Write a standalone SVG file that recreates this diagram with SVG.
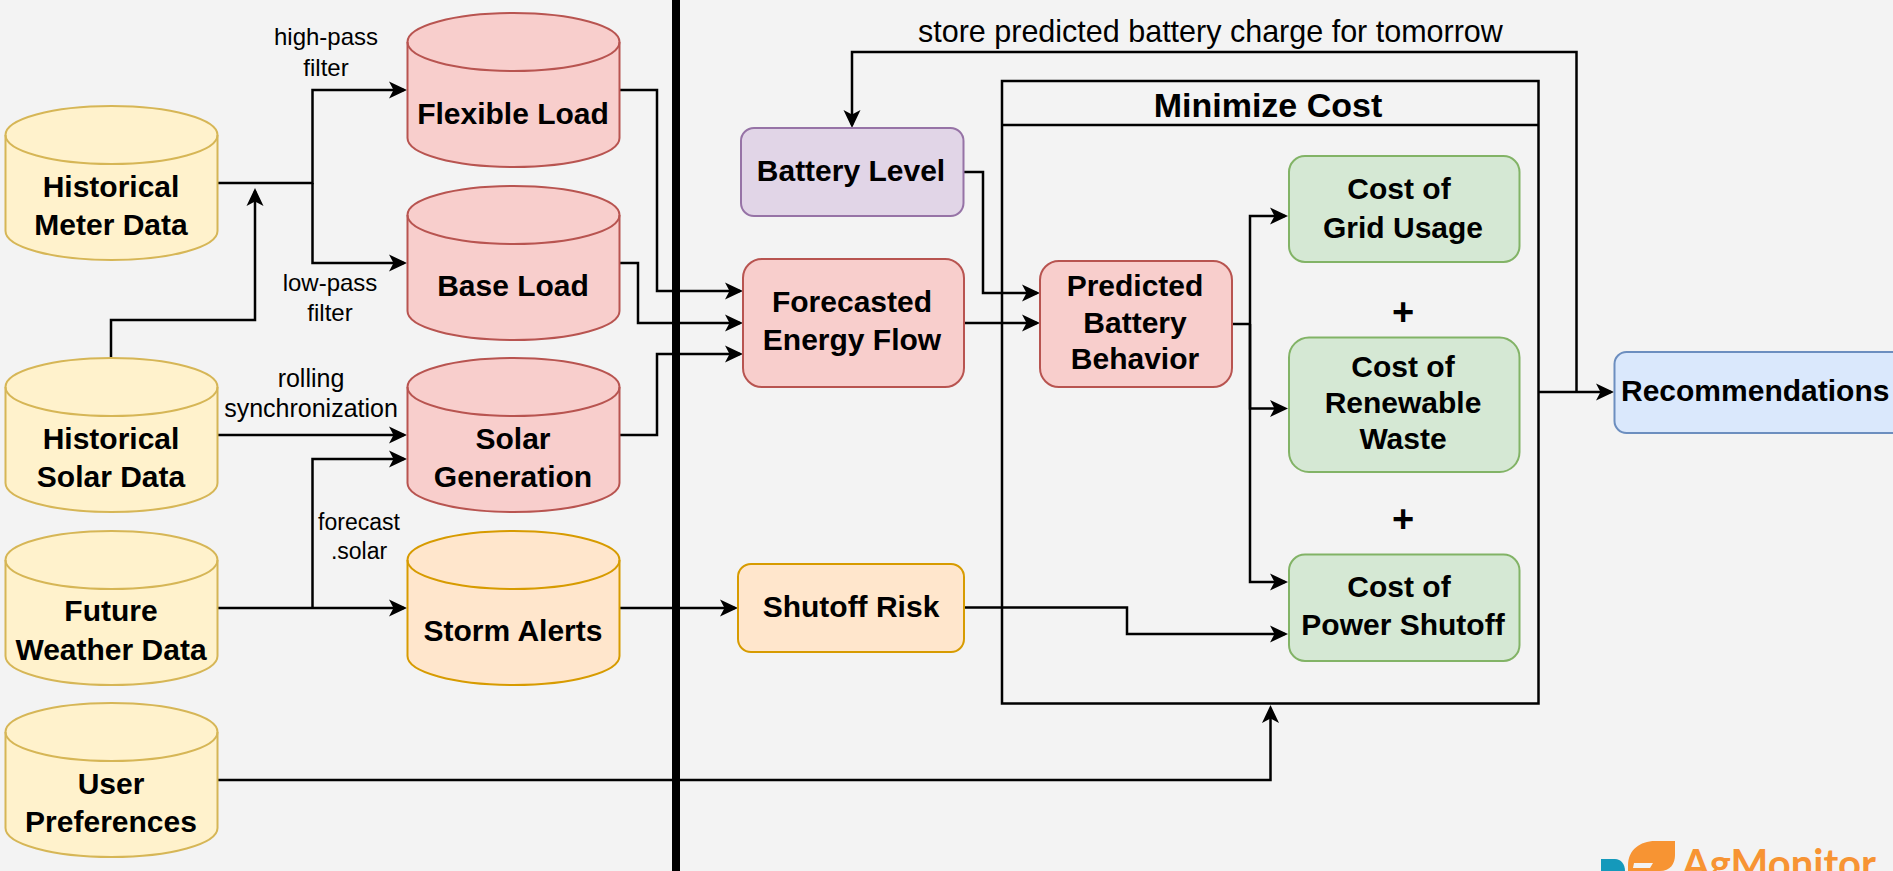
<svg xmlns="http://www.w3.org/2000/svg" width="1893" height="871" viewBox="0 0 1893 871">
<style>
.b{font:bold 30px "Liberation Sans",Arial,sans-serif;fill:#000;text-anchor:middle}
.l{font:24px "Liberation Sans",Arial,sans-serif;fill:#000;text-anchor:middle}
.c{fill:none;stroke:#000;stroke-width:2.5}
.ar{marker-end:url(#arrow)}
.n{stroke-width:2}
.y{fill:#fff2cc;stroke:#d6b656}.r{fill:#f8cecc;stroke:#b85450}.o{fill:#ffe6cc;stroke:#d79b00}
.p{fill:#e1d5e7;stroke:#9673a6}.g{fill:#d5e8d4;stroke:#82b366}.u{fill:#dae8fc;stroke:#6c8ebf}
</style>
<defs>
<marker id="arrow" markerUnits="userSpaceOnUse" markerWidth="22" markerHeight="22" refX="15" refY="11" orient="auto"><path d="M0,2.500 L18,11 L0,19.500 L4.500,11 Z" fill="#000"/></marker>
<g id="cyl">
<path d="M0,29 C0,13 47,0 106,0 C165,0 212,13 212,29 V125 C212,141 165,154 106,154 C47,154 0,141 0,125 Z"/>
<path style="fill:none" d="M0,29 C0,45 47,58 106,58 C165,58 212,45 212,29"/>
</g>
</defs>
<rect width="1893" height="871" fill="#f3f3f3"/>

<g id="minimize-cost">
<rect class="c" x="1002" y="81" width="536.500" height="622.500"/>
<path class="c" d="M1002,125 H1538.500"/>
<text class="b" style="font-size:34px" x="1268" y="117">Minimize Cost</text>
</g>

<g id="connectors">
<path class="c ar" d="M217,183 H312.500 V90 H404"/>
<path class="c ar" d="M312.500,183 V263 H404"/>
<path class="c ar" d="M111,358 V320 H255 V191"/>
<path class="c ar" d="M619,90 H657 V291 H740"/>
<path class="c ar" d="M619,263 H638 V323 H740"/>
<path class="c ar" d="M619,435 H657 V354 H740"/>
<path class="c ar" d="M217,435 H404"/>
<path class="c ar" d="M217,608 H404"/>
<path class="c ar" d="M312.500,608 V459 H404"/>
<path class="c ar" d="M619,608 H735"/>
<path class="c ar" d="M217,780 H1270.500 V708"/>
<path class="c ar" d="M963,172 H983 V293 H1037"/>
<path class="c ar" d="M964,323 H1037"/>
<path class="c" d="M1232,324 H1250"/>
<path class="c ar" d="M1250,324 V216 H1285"/>
<path class="c ar" d="M1250,324 V408.500 H1285"/>
<path class="c ar" d="M1250,324 V582 H1285"/>
<path class="c ar" d="M965,607.500 H1127 V634 H1285"/>
<path class="c ar" d="M1538.500,392 H1611"/>
<path class="c ar" d="M1576.500,392 V52 H852 V125"/>
</g>

<rect id="divider" x="672" y="0" width="8" height="871" fill="#000"/>

<g id="historical-meter-data"><use href="#cyl" x="5.500" y="106" class="y n"/><text class="b" x="111" y="197">Historical</text><text class="b" x="111" y="235">Meter Data</text></g>
<g id="historical-solar-data"><use href="#cyl" x="5.500" y="358" class="y n"/><text class="b" x="111" y="449">Historical</text><text class="b" x="111" y="487">Solar Data</text></g>
<g id="future-weather-data"><use href="#cyl" x="5.500" y="531" class="y n"/><text class="b" x="111" y="621">Future</text><text class="b" x="111" y="660">Weather Data</text></g>
<g id="user-preferences"><use href="#cyl" x="5.500" y="703" class="y n"/><text class="b" x="111" y="794">User</text><text class="b" x="111" y="832">Preferences</text></g>
<g id="flexible-load"><use href="#cyl" x="407.500" y="13" class="r n"/><text class="b" x="513" y="124">Flexible Load</text></g>
<g id="base-load"><use href="#cyl" x="407.500" y="186" class="r n"/><text class="b" x="513" y="296">Base Load</text></g>
<g id="solar-generation"><use href="#cyl" x="407.500" y="358" class="r n"/><text class="b" x="513" y="449">Solar</text><text class="b" x="513" y="487">Generation</text></g>
<g id="storm-alerts"><use href="#cyl" x="407.500" y="531" class="o n"/><text class="b" x="513" y="641">Storm Alerts</text></g>

<g id="battery-level"><rect class="p n" x="741" y="128" width="222.500" height="88" rx="13"/><text class="b" x="851" y="181">Battery Level</text></g>
<g id="forecasted-energy-flow"><rect class="r n" x="743" y="259" width="221" height="128" rx="19"/><text class="b" x="852" y="312">Forecasted</text><text class="b" x="852" y="350">Energy Flow</text></g>
<g id="shutoff-risk"><rect class="o n" x="738" y="564" width="226" height="88" rx="13"/><text class="b" x="851" y="617">Shutoff Risk</text></g>
<g id="predicted-battery-behavior"><rect class="r n" x="1040" y="261" width="192" height="126" rx="19"/><text class="b" x="1135" y="296">Predicted</text><text class="b" x="1135" y="333">Battery</text><text class="b" x="1135" y="369">Behavior</text></g>
<g id="cost-grid"><rect class="g n" x="1289" y="156" width="230.500" height="106" rx="16"/><text class="b" x="1399" y="199">Cost of</text><text class="b" x="1403" y="238">Grid Usage</text></g>
<g id="cost-renewable"><rect class="g n" x="1289" y="337.500" width="230.500" height="134.500" rx="20"/><text class="b" x="1403" y="377">Cost of</text><text class="b" x="1403" y="413">Renewable</text><text class="b" x="1403" y="449">Waste</text></g>
<g id="cost-shutoff"><rect class="g n" x="1289" y="554.500" width="230.500" height="106.500" rx="16"/><text class="b" x="1399" y="597">Cost of</text><text class="b" x="1403" y="635">Power Shutoff</text></g>
<g id="recommendations"><rect class="u n" x="1614.500" y="352" width="300" height="81" rx="12"/><text class="b" style="text-anchor:start" x="1621" y="401">Recommendations</text></g>

<g id="labels">
<text class="b" style="font-size:38px" x="1403" y="325">+</text>
<text class="b" style="font-size:38px" x="1403" y="532">+</text>
<text class="l" x="326" y="45">high-pass</text><text class="l" x="326" y="76">filter</text>
<text class="l" x="330" y="291">low-pass</text><text class="l" x="330" y="321">filter</text>
<text class="l" style="font-size:25px" x="311" y="387">rolling</text><text class="l" style="font-size:25px" x="311" y="417">synchronization</text>
<text class="l" style="font-size:23px" x="359" y="530">forecast</text><text class="l" style="font-size:23px" x="359" y="559">.solar</text>
<text class="l" style="font-size:30.500px;text-anchor:start" x="918" y="42">store predicted battery charge for tomorrow</text>
</g>

<g id="logo">
<path d="M1601,859 H1615 C1621,859 1625,864 1625,871 H1601 Z" fill="#1499bb"/>
<path d="M1628,871 V865 C1628,850 1640,841 1655,841 H1675 V855 C1675,864 1670,871 1660,871 Z" fill="#f79433"/>
<path d="M1634,863 H1653 L1650,868 H1633 Z" fill="#f3f3f3"/>
<text x="1682" y="878" style="font:bold 40px Lato,'Liberation Sans',Arial,sans-serif;fill:#f79433">AgMonitor</text>
</g>
</svg>
